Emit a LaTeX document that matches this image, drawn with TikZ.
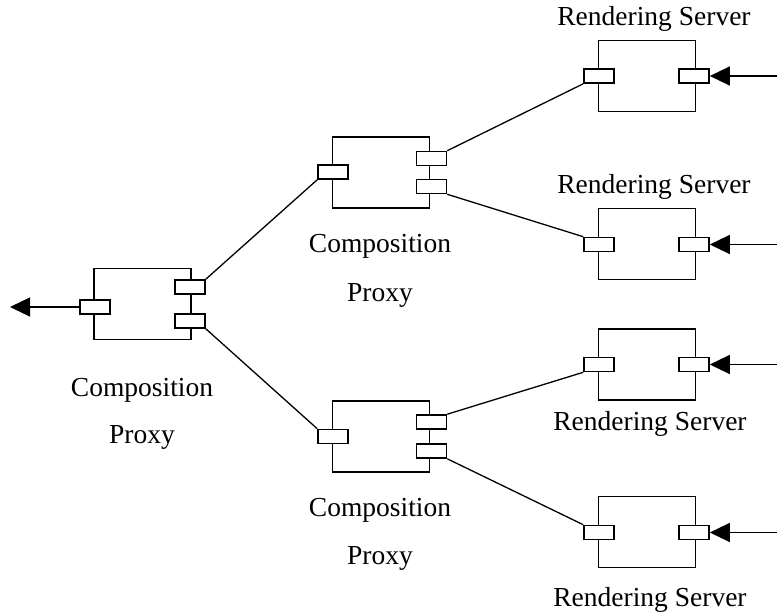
\documentclass[tikz,border=0pt]{standalone}
\usepackage{fontspec}
\setmainfont{Liberation Serif}
\usetikzlibrary{arrows.meta}

\tikzset{
  comp/.style={draw, line width=1.8pt, minimum width=97pt, minimum height=71pt, inner sep=0pt, fill=white},
  port/.style={draw, line width=1.6pt, minimum width=30pt, minimum height=14pt, inner sep=0pt, fill=white},
  wire/.style={line width=1.3pt},
  feed/.style={line width=1.3pt, -{Triangle[length=20pt,width=19pt]}},
  lbl/.style={font=\fontsize{27.5pt}{30pt}\selectfont, anchor=base, inner sep=0pt},
}

\begin{document}
\begin{tikzpicture}[x=1pt, y=-1pt]
\useasboundingbox (0,0) rectangle (777,613);

% root composition proxy
\node[comp] (L) at (142.5,304) {};
\node[port] (Lin) at (95,307) {};
\node[port] (Lo1) at (190,287) {};
\node[port] (Lo2) at (190,321) {};
\node[lbl] (Lt1) at (142,396) {Composition};
\node[lbl] (Lt2) at (142,443) {Proxy};

% upper composition proxy
\node[comp] (M1) at (381,172.5) {};
\node[port] (M1in) at (333,172) {};
\node[port] (M1o1) at (431.5,158.5) {};
\node[port] (M1o2) at (431.5,186.5) {};
\node[lbl] (M1t1) at (380,252) {Composition};
\node[lbl] (M1t2) at (380,301) {Proxy};

% lower composition proxy
\node[comp] (M2) at (381,436.5) {};
\node[port] (M2in) at (333,436.5) {};
\node[port] (M2o1) at (431.5,422) {};
\node[port] (M2o2) at (431.5,451) {};
\node[lbl] (M2t1) at (380,516) {Composition};
\node[lbl] (M2t2) at (380,564) {Proxy};

% rendering servers
\node[comp] (R1) at (647,76) {};
\node[port] (R1in) at (599,76) {};
\node[port] (R1out) at (694,76) {};
\node[lbl] (R1t) at (654,25) {Rendering Server};

\node[comp] (R2) at (647,244) {};
\node[port] (R2in) at (599,244.5) {};
\node[port] (R2out) at (694,244.5) {};
\node[lbl] (R2t) at (654,193) {Rendering Server};

\node[comp] (R3) at (647,364.5) {};
\node[port] (R3in) at (599,364.5) {};
\node[port] (R3out) at (694,364.5) {};
\node[lbl] (R3t) at (650,430) {Rendering Server};

\node[comp] (R4) at (647,532) {};
\node[port] (R4in) at (599,532.5) {};
\node[port] (R4out) at (694,532.5) {};
\node[lbl] (R4t) at (650,606) {Rendering Server};

% connections between components
\draw[wire] (Lo1.north east) -- (M1in.south west);
\draw[wire] (Lo2.south east) -- (M2in.north west);
\draw[wire] (M1o1.north east) -- (R1in.south west);
\draw[wire] (M1o2.south east) -- (R2in.north west);
\draw[wire] (M2o1.north east) -- (R3in.south west);
\draw[wire] (M2o2.south east) -- (R4in.north west);

% external inputs and output
\coordinate (outL) at (10,307);
\coordinate (in1) at (777,76);
\coordinate (in2) at (777,244.5);
\coordinate (in3) at (777,364.5);
\coordinate (in4) at (777,532.5);
\draw[feed] (Lin.west) -- (outL);
\draw[feed] (in1) -- (R1out.east);
\draw[feed] (in2) -- (R2out.east);
\draw[feed] (in3) -- (R3out.east);
\draw[feed] (in4) -- (R4out.east);
\end{tikzpicture}
\end{document}
